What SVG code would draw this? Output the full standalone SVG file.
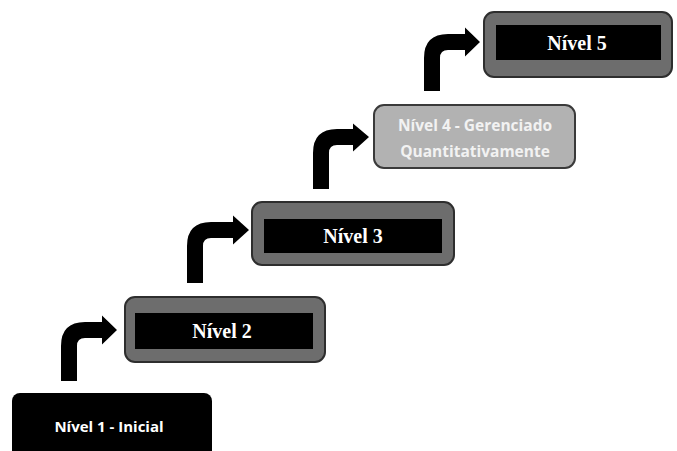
<svg xmlns="http://www.w3.org/2000/svg" width="677" height="451" viewBox="0 0 677 451">
<style>
.arrow{fill:#000}
.outer{fill:#6d6d6d;stroke:#2e2e2e;stroke-width:2}
.inner{fill:#000}
.light{fill:#b2b2b2;stroke:#3a3a3a;stroke-width:2}
.serif{font-family:"Liberation Serif","Times New Roman",serif;font-weight:bold;font-size:20px;fill:#fff;text-anchor:middle}
.sans{font-family:"Open Sans","Liberation Sans",sans-serif;font-weight:bold;font-size:15px;fill:#fff;text-anchor:middle}
.sans4{font-family:"Open Sans","Liberation Sans",sans-serif;font-weight:bold;font-size:15.5px;fill:#f2f2f2;text-anchor:middle}
</style>
<rect width="677" height="451" fill="#fff"/>
<g id="connectors">
<path class="arrow" d="M61 381 L61 346 Q61 322 85 322 L102 322 L102 315.5 L117 330 L102 344.5 L102 338 L85 338 Q77 338 77 346 L77 381 Z"/>
<path class="arrow" d="M187 283 L187 246 Q187 222 211 222 L233 222 L233 215.5 L249 230 L233 244.5 L233 238 L211 238 Q203 238 203 246 L203 283 Z"/>
<path class="arrow" d="M313 189 L313 153 Q313 129 337 129 L353 129 L353 123.5 L369 137 L353 151.5 L353 145 L337 145 Q329 145 329 153 L329 189 Z"/>
<path class="arrow" d="M424 91 L424 58 Q424 34 448 34 L465 34 L465 27.5 L480 42 L465 56.5 L465 50 L448 50 Q440 50 440 58 L440 91 Z"/>
</g>
<g id="nivel1">
<rect x="12" y="393" width="200" height="72" rx="8" fill="#000"/>
<text class="sans" x="109" y="432">Nível 1 - Inicial</text>
</g>
<g id="nivel2">
<rect class="outer" x="125" y="297" width="200" height="65" rx="10"/>
<rect class="inner" x="135" y="313" width="178" height="36"/>
<text class="serif" x="222" y="338">Nível 2</text>
</g>
<g id="nivel3">
<rect class="outer" x="252" y="202" width="202" height="63" rx="10"/>
<rect class="inner" x="264" y="219" width="178" height="34"/>
<text class="serif" x="353" y="243">Nível 3</text>
</g>
<g id="nivel4">
<rect class="light" x="374" y="105" width="201" height="63" rx="10"/>
<text class="sans4" x="475" y="131">Nível 4 - Gerenciado</text>
<text class="sans4" x="475" y="157">Quantitativamente</text>
</g>
<g id="nivel5">
<rect class="outer" x="484" y="12" width="188" height="65" rx="10"/>
<rect class="inner" x="496" y="25" width="165" height="35"/>
<text class="serif" x="577" y="50">Nível 5</text>
</g>
</svg>
